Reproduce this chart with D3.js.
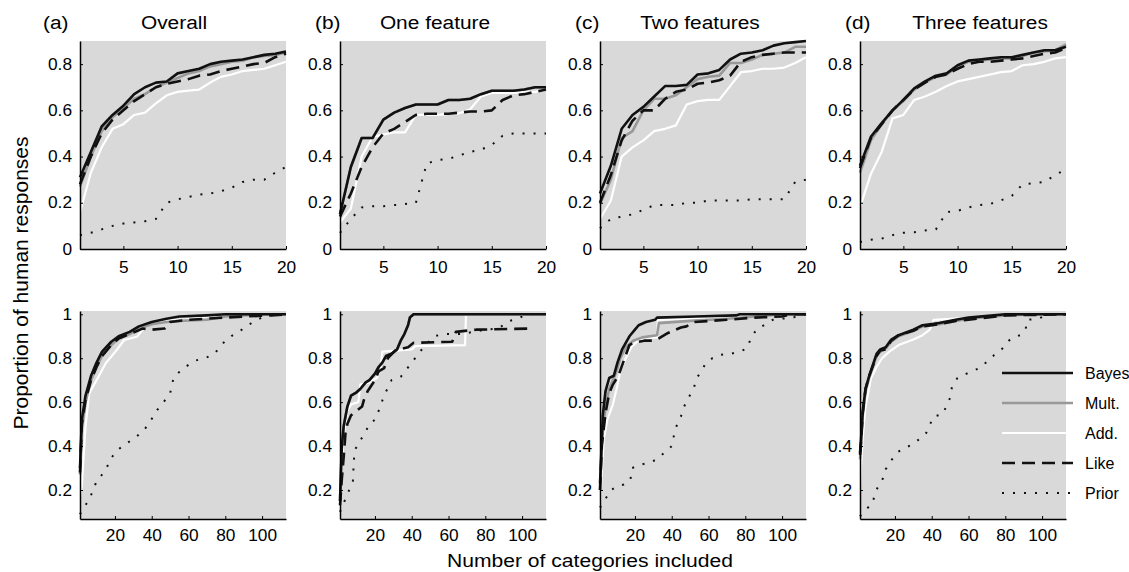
<!DOCTYPE html>
<html>
<head>
<meta charset="utf-8">
<script src="https://cdn.jsdelivr.net/npm/d3@7"></script>
<style>
  body { margin: 0; background: #fff; }
  text { font-family: "Liberation Sans", Arial, sans-serif; fill: #000; }
</style>
</head>
<body>
<div id="chart"></div>
<script>
// ---- data ----
const models = ["Bayes", "Mult.", "Add.", "Like", "Prior"];
const panelLabels = ["(a)", "(b)", "(c)", "(d)"];
const panelTitles = ["Overall", "One feature", "Two features", "Three features"];

const topCategories = [1,2,3,4,5,6,7,8,9,10,11,12,13,14,15,16,17,18,19,20];
const topYTicks = [0, 0.2, 0.4, 0.6, 0.8];
const topXTicks = [5, 10, 15, 20];
const bottomYTicks = [0.2, 0.4, 0.6, 0.8, 1];
const bottomXTicks = [20, 40, 60, 80, 100];

// top row: proportion for 1..20 categories, one row per panel (a-d)
const bayesTop = [
  [0.31,0.42,0.53,0.58,0.62,0.67,0.70,0.72,0.725,0.76,0.77,0.78,0.80,0.81,0.815,0.82,0.83,0.84,0.845,0.855],
  [0.15,0.355,0.48,0.48,0.56,0.59,0.61,0.625,0.625,0.625,0.645,0.645,0.65,0.67,0.685,0.685,0.685,0.69,0.70,0.70],
  [0.24,0.36,0.52,0.58,0.615,0.66,0.705,0.705,0.71,0.755,0.76,0.775,0.82,0.845,0.85,0.86,0.88,0.89,0.895,0.90],
  [0.36,0.485,0.545,0.60,0.645,0.695,0.725,0.75,0.76,0.795,0.815,0.82,0.825,0.83,0.83,0.84,0.85,0.86,0.86,0.875]
];
const multTop = [
  [0.27,0.40,0.51,0.57,0.61,0.65,0.67,0.70,0.72,0.74,0.76,0.77,0.79,0.80,0.81,0.815,0.83,0.835,0.84,0.85],
  [0.15,0.355,0.48,0.48,0.56,0.59,0.61,0.625,0.625,0.625,0.645,0.645,0.65,0.67,0.685,0.685,0.685,0.69,0.70,0.70],
  [0.195,0.30,0.48,0.51,0.60,0.65,0.65,0.665,0.70,0.735,0.745,0.75,0.805,0.805,0.82,0.84,0.845,0.85,0.875,0.875],
  [0.33,0.47,0.54,0.60,0.64,0.69,0.72,0.745,0.755,0.79,0.81,0.815,0.82,0.825,0.825,0.835,0.85,0.855,0.86,0.885]
];
const addTop = [
  [0.16,0.33,0.44,0.52,0.54,0.58,0.59,0.63,0.665,0.68,0.685,0.69,0.72,0.745,0.755,0.77,0.775,0.78,0.795,0.81],
  [0.115,0.175,0.40,0.485,0.495,0.505,0.505,0.58,0.58,0.58,0.585,0.587,0.605,0.66,0.675,0.675,0.675,0.68,0.68,0.69],
  [0.13,0.21,0.40,0.44,0.47,0.51,0.52,0.535,0.625,0.64,0.645,0.645,0.705,0.765,0.77,0.78,0.78,0.785,0.805,0.83],
  [0.18,0.325,0.42,0.565,0.58,0.645,0.66,0.68,0.705,0.725,0.735,0.745,0.755,0.765,0.77,0.795,0.80,0.81,0.825,0.83]
];
const likeTop = [
  [0.28,0.40,0.50,0.56,0.60,0.64,0.67,0.70,0.715,0.725,0.735,0.75,0.755,0.77,0.78,0.79,0.80,0.805,0.83,0.845],
  [0.14,0.24,0.355,0.44,0.50,0.52,0.55,0.58,0.585,0.585,0.585,0.59,0.595,0.595,0.60,0.645,0.665,0.67,0.68,0.69],
  [0.20,0.32,0.47,0.555,0.60,0.60,0.65,0.68,0.69,0.715,0.72,0.73,0.75,0.81,0.83,0.84,0.845,0.85,0.85,0.85],
  [0.35,0.48,0.54,0.60,0.645,0.69,0.72,0.745,0.755,0.78,0.80,0.81,0.81,0.815,0.82,0.825,0.835,0.845,0.85,0.87]
];
const priorTop = [
  [0.06,0.07,0.085,0.10,0.11,0.115,0.12,0.13,0.20,0.215,0.225,0.235,0.24,0.25,0.265,0.29,0.30,0.30,0.33,0.355],
  [0.07,0.13,0.18,0.185,0.185,0.19,0.195,0.20,0.37,0.385,0.39,0.405,0.42,0.43,0.45,0.49,0.50,0.50,0.50,0.50],
  [0.09,0.13,0.14,0.15,0.17,0.19,0.19,0.19,0.20,0.20,0.21,0.21,0.21,0.21,0.215,0.215,0.215,0.215,0.29,0.30],
  [0.03,0.04,0.045,0.06,0.07,0.072,0.08,0.085,0.16,0.165,0.18,0.19,0.195,0.21,0.23,0.28,0.285,0.29,0.32,0.345]
];

// bottom row: [number of categories, proportion]
const bayesBottom = [
  [[1,0.30],[2,0.52],[4,0.63],[7,0.72],[10,0.78],[13,0.83],[18,0.875],[22,0.90],[28,0.92],[33,0.945],[40,0.965],[48,0.98],[55,0.99],[70,0.995],[80,1.0],[113,1.0]],
  [[1,0.15],[2,0.40],[3,0.49],[5,0.58],[7,0.63],[10,0.645],[12,0.66],[15,0.69],[17,0.70],[20,0.73],[22,0.76],[24,0.78],[26,0.81],[29,0.82],[32,0.84],[34,0.88],[36,0.91],[38,0.95],[39,0.985],[41,1.0],[113,1.0]],
  [[1,0.23],[1.5,0.32],[2.5,0.54],[4,0.65],[6,0.71],[8.5,0.72],[10.5,0.78],[13,0.84],[15,0.87],[17,0.90],[20,0.93],[22,0.95],[26,0.965],[31,0.975],[32,0.985],[53,0.99],[75,0.995],[77,1.0],[113,1.0]],
  [[1,0.37],[1.5,0.42],[2.5,0.56],[4,0.66],[6,0.72],[8,0.77],[10,0.82],[12,0.84],[15,0.85],[18,0.885],[22,0.905],[30,0.93],[35,0.95],[44,0.96],[53,0.975],[60,0.985],[80,1.0],[113,1.0]]
];
const multBottom = [
  [[1,0.27],[2,0.48],[4,0.60],[7,0.70],[10,0.76],[13,0.81],[18,0.86],[22,0.89],[28,0.91],[33,0.935],[40,0.955],[48,0.965],[55,0.97],[70,0.975],[80,0.99],[100,1.0],[113,1.0]],
  [[1,0.15],[2,0.40],[3,0.49],[5,0.58],[7,0.63],[10,0.645],[12,0.66],[15,0.69],[17,0.70],[20,0.73],[22,0.76],[24,0.78],[26,0.81],[29,0.82],[32,0.84],[34,0.88],[36,0.91],[38,0.95],[39,0.985],[41,1.0],[113,1.0]],
  [[1,0.20],[2,0.42],[4,0.58],[6,0.66],[8,0.70],[10,0.74],[12,0.80],[15,0.85],[19,0.88],[24,0.895],[32,0.905],[33,0.96],[50,0.97],[70,0.98],[85,0.99],[100,1.0],[113,1.0]],
  [[1,0.34],[1.5,0.40],[2.5,0.54],[4,0.65],[6,0.71],[8,0.76],[10,0.81],[12,0.83],[15,0.845],[18,0.875],[22,0.90],[30,0.925],[35,0.945],[44,0.955],[53,0.97],[60,0.98],[80,0.995],[100,1.0],[113,1.0]]
];
const addBottom = [
  [[1,0.17],[2,0.22],[4,0.49],[6,0.64],[10,0.70],[15,0.777],[21,0.838],[25,0.883],[32,0.898],[37,0.95],[48,0.974],[59,0.977],[70,0.99],[80,1.0],[113,1.0]],
  [[1,0.12],[2,0.30],[3,0.45],[5,0.56],[7,0.59],[11,0.60],[12,0.68],[17,0.69],[21,0.71],[23,0.75],[24,0.83],[40,0.84],[42,0.855],[69,0.86],[69.5,1.0],[113,1.0]],
  [[1,0.13],[1.5,0.21],[3,0.43],[5,0.52],[8,0.59],[10,0.66],[12,0.74],[15,0.80],[18,0.85],[21,0.875],[25,0.89],[32,0.895],[32.5,0.975],[50,0.98],[80,0.99],[90,1.0],[113,1.0]],
  [[1,0.20],[1.5,0.30],[2.5,0.44],[4,0.58],[7,0.71],[10,0.76],[13,0.80],[17,0.83],[22,0.86],[30,0.885],[35,0.905],[39,0.93],[41,0.975],[53,0.98],[70,0.99],[85,1.0],[113,1.0]]
];
const likeBottom = [
  [[1,0.28],[2,0.50],[4,0.61],[7,0.70],[10,0.76],[13,0.81],[18,0.86],[22,0.89],[28,0.91],[35,0.935],[40,0.93],[47,0.935],[50,0.965],[60,0.975],[70,0.98],[90,0.99],[105,0.995],[113,1.0]],
  [[1,0.13],[2,0.25],[3,0.35],[4,0.46],[5,0.50],[7,0.54],[10,0.56],[13,0.58],[14,0.61],[16,0.65],[20,0.70],[22,0.74],[25,0.755],[27,0.80],[31,0.835],[38,0.85],[41,0.87],[62,0.875],[64,0.92],[75,0.93],[104,0.935]],
  [[1,0.20],[2,0.40],[4,0.55],[6,0.64],[8,0.68],[11,0.72],[14,0.79],[17,0.86],[19,0.87],[25,0.88],[30,0.88],[33,0.89],[38,0.915],[45,0.94],[48,0.945],[52,0.965],[70,0.975],[85,0.985],[100,0.99],[105,1.0],[113,1.0]],
  [[1,0.36],[1.5,0.41],[2.5,0.55],[4,0.66],[6,0.72],[8,0.765],[10,0.81],[12,0.835],[15,0.84],[18,0.88],[22,0.905],[30,0.925],[35,0.945],[44,0.955],[53,0.97],[60,0.975],[80,0.995],[113,1.0]]
];
const priorBottom = [
  [[1,0.09],[3,0.12],[6,0.155],[10,0.24],[14,0.28],[16,0.31],[18,0.345],[21,0.38],[26,0.41],[32,0.445],[36,0.475],[39,0.51],[43,0.565],[46,0.595],[50,0.64],[52,0.715],[56,0.745],[60,0.77],[64,0.79],[69,0.80],[74,0.82],[79,0.87],[84,0.905],[90,0.935],[95,0.965],[101,0.99],[106,1.0],[113,1.0]],
  [[1,0.10],[2,0.12],[6,0.20],[8,0.24],[8.5,0.33],[9,0.38],[11.5,0.42],[14,0.45],[17,0.50],[20,0.52],[22,0.56],[25,0.63],[29,0.70],[34,0.715],[40,0.78],[45,0.835],[52,0.90],[58,0.91],[67,0.91],[80,0.93],[87,0.935],[93,0.97],[98,0.98],[102,1.0],[113,1.0]],
  [[1,0.12],[4,0.16],[7,0.20],[11,0.22],[14,0.225],[17.5,0.245],[18.5,0.30],[23,0.315],[28,0.325],[32,0.34],[36,0.37],[40,0.40],[42,0.48],[45,0.535],[47,0.585],[52,0.665],[54,0.715],[56,0.74],[58,0.77],[62,0.80],[66,0.815],[72,0.82],[77,0.83],[81,0.845],[83,0.89],[86,0.93],[90,0.95],[95,0.975],[100,0.98],[105,0.985],[110,0.99],[113,1.0]],
  [[1,0.08],[4,0.11],[8,0.14],[9,0.185],[11.5,0.225],[14,0.26],[15,0.295],[18,0.335],[21,0.37],[25,0.39],[29,0.405],[33,0.43],[37,0.46],[41,0.535],[46,0.545],[50,0.62],[51,0.67],[54,0.71],[59,0.73],[62,0.74],[67,0.76],[70,0.785],[74,0.815],[78,0.84],[80,0.86],[83,0.89],[88,0.905],[91,0.93],[92,0.975],[98,0.98],[102,0.995],[108,1.0],[113,1.0]]
];

// ---- layout ----
const W = 1129, H = 572;
const panelW = 206, panelH = 208;
const panelLeft = [80, 340, 600, 860];
const rowTop = [41, 311];
const labelX = [43, 315, 575, 845];
const titleX = [174, 435, 700, 980];
const bg = "#d9d9d9";

// style per model, same order as models
const styles = [
  { color: "#111", width: 2.6, dash: null },
  { color: "#999", width: 2.6, dash: null },
  { color: "#fff", width: 2.2, dash: null },
  { color: "#111", width: 2.6, dash: "13,7" },
  { color: "#111", width: 2, dash: "2,9" }
];
const drawOrder = [4, 2, 1, 3, 0];

const svg = d3.select("#chart").append("svg")
  .attr("width", W).attr("height", H);

function stretch(sel, sx) {
  sel.each(function () {
    const t = d3.select(this);
    const x = +(t.attr("x") || 0);
    t.attr("x", x / sx).attr("transform", `scale(${sx},1)`);
  });
}

function putText(x, y, str, size, sx, anchor) {
  svg.append("text")
    .attr("transform", `translate(${x},${y}) scale(${sx},1)`)
    .attr("text-anchor", anchor || "start")
    .style("font-size", size + "px")
    .text(str);
}

function drawPanel(col, row) {
  const left = panelLeft[col], top = rowTop[row];
  const g = svg.append("g").attr("transform", `translate(${left},${top})`);

  const x = d3.scaleLinear()
    .domain(row === 0 ? [1, 20] : [1, 113])
    .range([0, panelW]);
  const y = d3.scaleLinear()
    .domain(row === 0 ? [0, 0.9] : [0.068, 1.015])
    .range([panelH, 0]);

  g.append("rect").attr("width", panelW).attr("height", panelH).attr("fill", bg);

  const clipId = `clip-${row}-${col}`;
  g.append("clipPath").attr("id", clipId)
    .append("rect").attr("x", -2).attr("y", -2).attr("width", panelW + 4).attr("height", panelH + 4);

  const series = row === 0
    ? [bayesTop, multTop, addTop, likeTop, priorTop].map(s => s[col].map((v, i) => [topCategories[i], v]))
    : [bayesBottom, multBottom, addBottom, likeBottom, priorBottom].map(s => s[col]);

  const line = d3.line().x(d => x(d[0])).y(d => y(d[1]));
  const lines = g.append("g").attr("clip-path", `url(#${clipId})`);
  drawOrder.forEach(k => {
    const st = styles[k];
    lines.append("path")
      .datum(series[k])
      .attr("d", line)
      .attr("fill", "none")
      .attr("stroke", st.color)
      .attr("stroke-width", st.width)
      .attr("stroke-linejoin", "round")
      .attr("stroke-dasharray", st.dash);
  });

  const fmt = d => d === 0 ? "0" : d === 1 ? "1" : d3.format(".1f")(d);
  const yAxis = d3.axisLeft(y)
    .tickValues(row === 0 ? topYTicks : bottomYTicks)
    .tickFormat(fmt)
    .tickSizeInner(-3).tickSizeOuter(0).tickPadding(8);
  const xAxis = d3.axisBottom(x)
    .tickValues(row === 0 ? topXTicks : bottomXTicks)
    .tickSizeInner(-3).tickSizeOuter(0).tickPadding(row === 0 ? 13 : 11);

  const ya = g.append("g").call(yAxis);
  const xa = g.append("g").attr("transform", `translate(0,${panelH})`).call(xAxis);
  [ya, xa].forEach(a => {
    a.select(".domain").attr("stroke", "#000").attr("stroke-width", 1.5);
    a.selectAll(".tick line").attr("stroke", "#000");
    a.selectAll("text").style("font-size", "16px").style("font-family", "'Liberation Sans', Arial, sans-serif");
    stretch(a.selectAll("text"), 1.08);
  });
}

[0, 1].forEach(row => [0, 1, 2, 3].forEach(col => drawPanel(col, row)));

// titles
panelLabels.forEach((s, i) => putText(labelX[i], 29, s, 18, 1.16, "start"));
panelTitles.forEach((s, i) => putText(titleX[i], 29, s, 18, 1.16, "middle"));

// axis labels
putText(590, 567, "Number of categories included", 18.5, 1.14, "middle");
svg.append("text")
  .attr("transform", "translate(28,283) rotate(-90)")
  .attr("text-anchor", "middle")
  .style("font-size", "21px")
  .text("Proportion of human responses");

// legend in panel (d), bottom row
const legend = svg.append("g");
models.forEach((m, i) => {
  const st = styles[i];
  const ly = 373 + i * 30;
  legend.append("line")
    .attr("x1", 1002).attr("x2", 1073).attr("y1", ly).attr("y2", ly)
    .attr("stroke", st.color)
    .attr("stroke-width", st.width)
    .attr("stroke-dasharray", st.dash);
  legend.append("text")
    .attr("x", 1085).attr("y", ly).attr("dy", "0.35em")
    .style("font-size", "16px")
    .text(m);
});
</script>
</body>
</html>
